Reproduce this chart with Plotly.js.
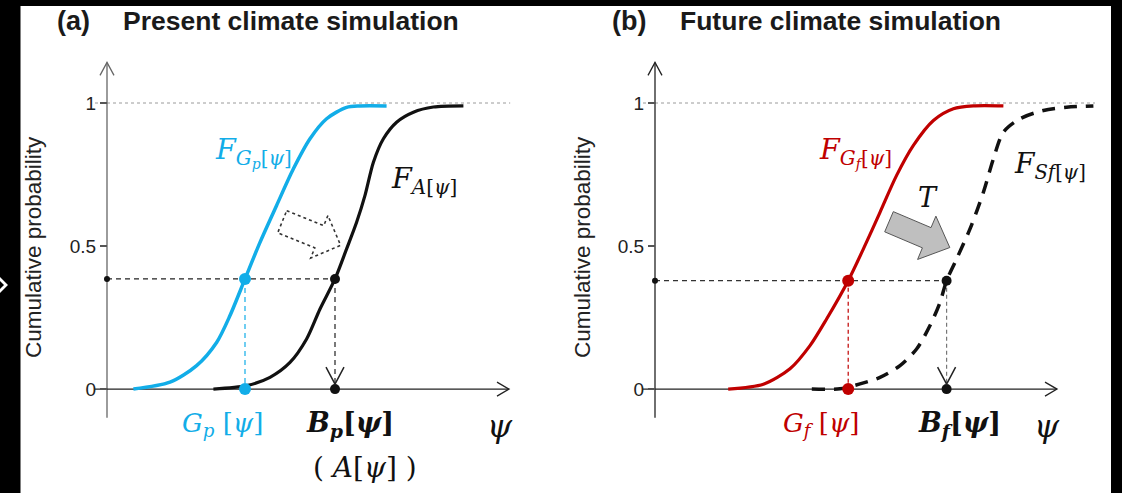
<!DOCTYPE html>
<html><head><meta charset="utf-8">
<script src="https://cdn.plot.ly/plotly-3.0.1.min.js"></script>
<style>html,body{margin:0;padding:0;background:#fff;}#chart{width:1122px;height:493px;}</style>
</head><body><div id="chart"></div>
<script>
// ---------- data ----------
const yTickVals = [0, 0.5, 1];
const yTickText = ['0', '0.5', '1'];

// Panel (a): present climate simulation
const gpPsi = [0.66, 1.575, 2.24, 2.74, 3.075, 3.45, 3.825, 4.24, 4.66, 5.075, 5.49, 5.99, 6.325, 6.99];
const gpCdf = [0, 0.024, 0.082, 0.163, 0.257, 0.385, 0.513, 0.642, 0.770, 0.875, 0.945, 0.985, 0.99, 0.99];
const aPsi  = [2.66, 3.49, 4.075, 4.575, 4.99, 5.325, 5.70, 5.99, 6.24, 6.45, 6.66, 6.91, 7.24, 7.66, 8.16, 8.91];
const aCdf  = [0, 0.012, 0.041, 0.093, 0.175, 0.280, 0.385, 0.490, 0.583, 0.677, 0.793, 0.875, 0.933, 0.968, 0.986, 0.99];
const probA = 0.385;
const gpQuantile = 3.45;
const bpQuantile = 5.70;

// Panel (b): future climate simulation
const gfPsi = [1.83, 2.71, 3.375, 3.875, 4.29, 4.83, 5.21, 5.625, 6.04, 6.46, 6.96, 7.46, 7.96, 8.71];
const gfCdf = [0, 0.017, 0.071, 0.152, 0.245, 0.379, 0.490, 0.618, 0.747, 0.852, 0.939, 0.980, 0.99, 0.99];
const sfPsi = [3.92, 4.625, 5.125, 5.625, 6.125, 6.54, 6.875, 7.125, 7.29, 7.54, 7.875, 8.21, 8.46, 8.71, 9.125, 9.71, 10.29, 10.96];
const sfCdf = [0, 0.001, 0.018, 0.041, 0.082, 0.140, 0.222, 0.303, 0.379, 0.455, 0.560, 0.688, 0.805, 0.898, 0.945, 0.974, 0.985, 0.99];
const probB = 0.379;
const gfQuantile = 4.83;
const bfQuantile = 7.29;

// ---------- styling / layout helpers ----------
const W = 1122, H = 493;
const PX = x => x / W;
const PY = y => 1 - y / H;
const BLUE = '#12ade8', RED = '#c00000', BLK = '#111';
const SANS = 'Liberation Sans, Arial, sans-serif';
const SERIF = 'DejaVu Serif, Liberation Serif, serif';

function line(x, y, xa, ya, color, width, dash) {
  return {x, y, xaxis: xa, yaxis: ya, mode: 'lines', type: 'scatter', hoverinfo: 'skip',
          line: {color, width, dash: dash || 'solid'}};
}
function spline(x, y, xa, ya, color, width, dash) {
  const t = line(x, y, xa, ya, color, width, dash);
  t.line.shape = 'spline'; t.line.smoothing = 0.8;
  return t;
}
function dots(x, y, xa, ya, color, size) {
  return {x, y, xaxis: xa, yaxis: ya, mode: 'markers', type: 'scatter', hoverinfo: 'skip', cliponaxis: false,
          marker: {color, size}};
}

const traces = [
  // panel a guide lines
  line([0, bpQuantile], [probA, probA], 'x', 'y', '#222', 1.2, '5px,4px'),
  line([gpQuantile, gpQuantile], [probA, 0], 'x', 'y', BLUE, 1.2, '5px,4px'),
  line([bpQuantile, bpQuantile], [probA, 0], 'x', 'y', '#222', 1.2, '5px,4px'),
  spline(gpPsi, gpCdf, 'x', 'y', BLUE, 3.5),
  spline(aPsi, aCdf, 'x', 'y', BLK, 3.2),
  dots([0], [probA], 'x', 'y', BLK, 6),
  dots([gpQuantile, gpQuantile], [probA, 0], 'x', 'y', BLUE, 12),
  dots([bpQuantile, bpQuantile], [probA, 0], 'x', 'y', BLK, 10),
  // panel b
  line([0, bfQuantile], [probB, probB], 'x2', 'y2', '#333', 1.2, '5px,4px'),
  line([gfQuantile, gfQuantile], [probB, 0], 'x2', 'y2', RED, 1.2, '4px,3px'),
  line([bfQuantile, bfQuantile], [probB, 0], 'x2', 'y2', '#777', 1.2, '4px,3px'),
  spline(gfPsi, gfCdf, 'x2', 'y2', RED, 3.2),
  spline(sfPsi, sfCdf, 'x2', 'y2', BLK, 3.5, '13px,9px'),
  dots([0], [probB], 'x2', 'y2', BLK, 6),
  dots([gfQuantile, gfQuantile], [probB, 0], 'x2', 'y2', RED, 12),
  dots([bfQuantile, bfQuantile], [probB, 0], 'x2', 'y2', BLK, 10)
];

function blockArrow(angleDeg, L, Ls, w, Wd) {
  const a = angleDeg * Math.PI / 180;
  const pts = [[0, w/2], [Ls, w/2], [Ls, Wd/2], [L, 0], [Ls, -Wd/2], [Ls, -w/2], [0, -w/2]];
  return pts.map((p, i) => {
    const x = p[0] * Math.cos(a) - p[1] * Math.sin(a);
    const y = p[0] * Math.sin(a) + p[1] * Math.cos(a);
    return (i ? 'L' : 'M') + x.toFixed(1) + ',' + y.toFixed(1);
  }).join(' ') + ' Z';
}
function pxPath(xr, yr, xa, ya, path, lineStyle, fill) {
  return {type: 'path', xref: xr, yref: yr, xsizemode: 'pixel', ysizemode: 'pixel',
          xanchor: xa, yanchor: ya, path, line: lineStyle, fillcolor: fill || 'rgba(0,0,0,0)', layer: 'above'};
}

const shapes = [];
function axesFor(xr, yr, xStart, xEnd, dotEnd, yColor) {
  shapes.push({type: 'line', xref: xr, yref: yr, x0: xStart, x1: dotEnd, y0: 1, y1: 1,
               line: {color: '#9a9a9a', width: 1, dash: 'dot'}, layer: 'below'});
  shapes.push({type: 'line', xref: xr, yref: yr, x0: 0, x1: 0, y0: -0.1, y1: 1.142,
               line: {color: yColor, width: 1.3}, layer: 'below'});
  shapes.push({type: 'line', xref: xr, yref: yr, x0: xStart, x1: xEnd, y0: 0, y1: 0,
               line: {color: '#222', width: 1.3}, layer: 'below'});
  shapes.push(pxPath(xr, yr, xEnd, 0, 'M-12,7 L0,0 L-12,-7', {color: '#222', width: 1.3}));
  shapes.push(pxPath(xr, yr, 0, 1.142, 'M-7,-13 L0,0 L7,-13', {color: yColor, width: 1.3}));
}
axesFor('x', 'y', -0.3, 10.05, 10.08, '#666');
axesFor('x2', 'y2', -0.3, 10.05, 11.0, '#222');
// arrowheads on the vertical dashed guides
shapes.push(pxPath('x', 'y', bpQuantile, 0, 'M-9,22 L0,5 L9,22', {color: '#222', width: 1.5}));
shapes.push(pxPath('x2', 'y2', bfQuantile, 0, 'M-9,22 L0,5 L9,22', {color: '#222', width: 1.5}));
// block arrows
shapes.push(pxPath('x', 'y', 4.38, 0.585, blockArrow(-22, 63, 40, 24, 46), {color: '#333', width: 1.6, dash: 'dot'}));
shapes.push(pxPath('x2', 'y2', 5.85, 0.585, blockArrow(-23, 66, 41, 22, 47), {color: '#555', width: 1}, '#bfbfbf'));
// black frame
const frame = {type: 'rect', xref: 'paper', yref: 'paper', fillcolor: '#000', line: {width: 0}, layer: 'above'};
shapes.push(Object.assign({}, frame, {x0: 0, x1: PX(20.5), y0: 0, y1: 1}));
shapes.push(Object.assign({}, frame, {x0: 0, x1: 1, y0: PY(6), y1: 1}));
shapes.push(Object.assign({}, frame, {x0: PX(1111), x1: 1, y0: 0, y1: 1}));
const chev = [[0, 277], [8, 285], [0, 293], [0, 289], [4, 285], [0, 281]];
shapes.push({type: 'path', xref: 'paper', yref: 'paper', layer: 'above', fillcolor: '#fff', line: {width: 0},
  path: chev.map((p, i) => (i ? 'L' : 'M') + PX(p[0]).toFixed(5) + ',' + PY(p[1]).toFixed(5)).join(' ') + ' Z'});

function txt(x, y, text, size, color, family, xanchor, extra) {
  return Object.assign({xref: 'paper', yref: 'paper', x: PX(x), y: PY(y), text, showarrow: false,
    xanchor: xanchor || 'center', yanchor: 'middle', font: {size, color, family}}, extra || {});
}
const annotations = [
  txt(55, 21, '<b>(a)</b>', 27, '#1a1a1a', SANS, 'left'),
  txt(121, 21, '<b>Present climate simulation</b>', 26.5, '#1a1a1a', SANS, 'left'),
  txt(610, 21, '<b>(b)</b>', 27, '#1a1a1a', SANS, 'left'),
  txt(678, 21, '<b>Future climate simulation</b>', 26.5, '#1a1a1a', SANS, 'left'),
  txt(33, 247, 'Cumulative probability', 22.5, '#222', SANS, 'center', {textangle: -90}),
  txt(582, 247, 'Cumulative probability', 22.5, '#222', SANS, 'center', {textangle: -90}),
  // curve labels
  txt(213, 152, '<i>F</i><sub><i>G<sub>p</sub></i>[<i>ψ</i>]</sub>', 28.5, BLUE, SERIF, 'left'),
  txt(389, 180, '<i>F</i><sub><i>A</i>[<i>ψ</i>]</sub>', 28.5, BLK, SERIF, 'left'),
  txt(817, 152, '<i>F</i><sub><i>G<sub>f</sub></i>[<i>ψ</i>]</sub>', 28.5, RED, SERIF, 'left'),
  txt(1012, 165, '<i>F</i><sub><i>Sf</i>[<i>ψ</i>]</sub>', 28, BLK, SERIF, 'left'),
  txt(928, 198, '<i>T</i>', 27, BLK, SERIF, 'center'),
  // axis labels
  txt(222, 424, '<i>G<sub>p</sub></i> [<i>ψ</i>]', 26, BLUE, SERIF, 'center'),
  txt(350, 424, '<b><i>B<sub>p</sub></i>[<i>ψ</i>]</b>', 27, BLK, SERIF, 'center'),
  txt(365, 467, '( <i>A</i>[<i>ψ</i>] )', 28, BLK, SERIF, 'center'),
  txt(500, 426, '<i>ψ</i>', 32, BLK, SERIF, 'center'),
  txt(821, 424, '<i>G<sub>f</sub></i> [<i>ψ</i>]', 26, RED, SERIF, 'center'),
  txt(959, 424, '<b><i>B<sub>f</sub></i>[<i>ψ</i>]</b>', 27, BLK, SERIF, 'center'),
  txt(1047, 426, '<i>ψ</i>', 32, BLK, SERIF, 'center')
];

const yDomain = [PY(432), PY(45.8)];
const yCommon = {range: [-0.15, 1.2], domain: yDomain, anchor: 'free', tickvals: yTickVals, ticktext: yTickText,
  ticks: 'outside', ticklen: 7, tickwidth: 1.2, tickcolor: '#555', showline: false, showgrid: false, zeroline: false,
  tickfont: {family: SANS, size: 19, color: '#222'}, fixedrange: true};
const xCommon = {visible: false, showgrid: false, zeroline: false, fixedrange: true};

const layout = {
  width: W, height: H, margin: {l: 0, r: 0, t: 0, b: 0},
  paper_bgcolor: '#fff', plot_bgcolor: 'rgba(0,0,0,0)', showlegend: false,
  xaxis: Object.assign({}, xCommon, {domain: [PX(87), PX(527)], range: [-0.5, 10.5], anchor: 'y'}),
  yaxis: Object.assign({}, yCommon, {position: PX(107)}),
  xaxis2: Object.assign({}, xCommon, {domain: [PX(635), PX(1115)], range: [-0.5, 11.5], anchor: 'y2'}),
  yaxis2: Object.assign({}, yCommon, {position: PX(655)}),
  shapes, annotations
};
Plotly.newPlot('chart', traces, layout, {displayModeBar: false, staticPlot: true});
</script>
</body></html>
